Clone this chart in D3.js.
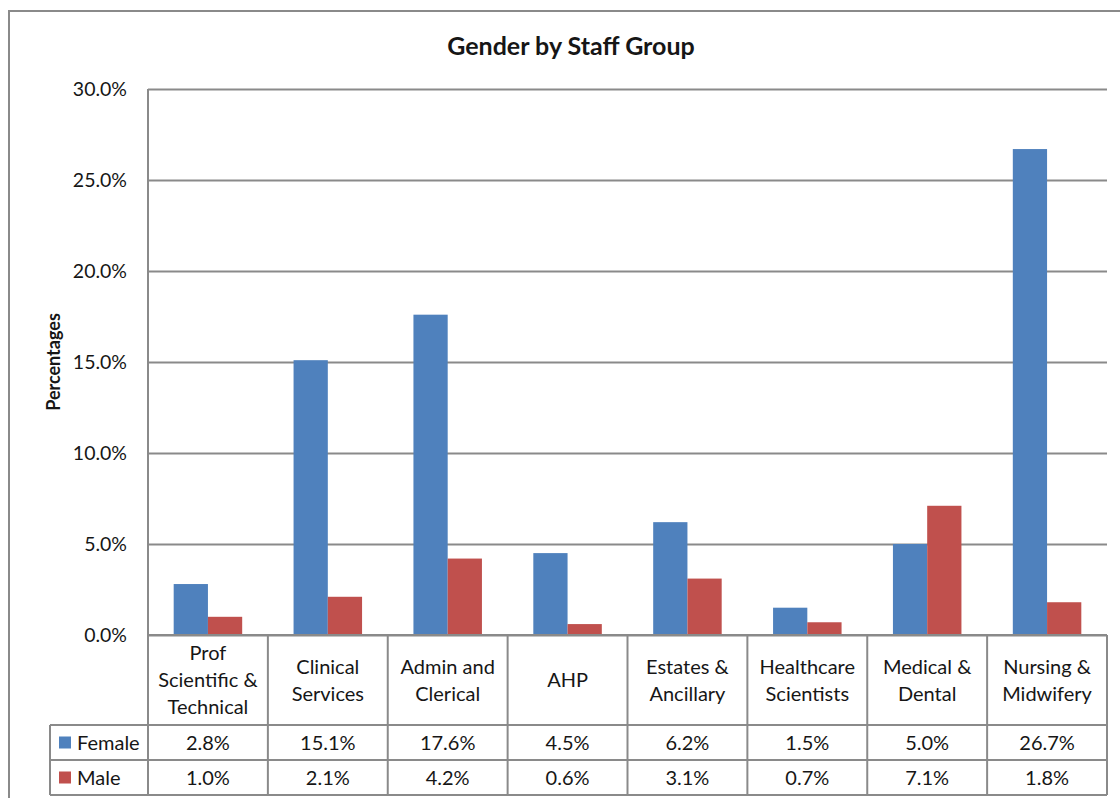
<!DOCTYPE html>
<html>
<head>
<meta charset="utf-8">
<script src="https://cdn.jsdelivr.net/npm/d3@7"></script>
<style>
  body { margin: 0; background: #fff; }
  svg { display: block; }
  text { font-family: Lato, "Open Sans", sans-serif; fill: #161616; }
</style>
</head>
<body>
<script>
// chart data
var categories = ["Prof Scientific & Technical", "Clinical Services", "Admin and Clerical", "AHP",
                  "Estates & Ancillary", "Healthcare Scientists", "Medical & Dental", "Nursing & Midwifery"];
// how each category label wraps in the table header
var categoryLines = [["Prof", "Scientific &", "Technical"], ["Clinical", "Services"], ["Admin and", "Clerical"], ["AHP"],
                     ["Estates &", "Ancillary"], ["Healthcare", "Scientists"], ["Medical &", "Dental"], ["Nursing &", "Midwifery"]];
var seriesNames = ["Female", "Male"];
var female = [2.8, 15.1, 17.6, 4.5, 6.2, 1.5, 5.0, 26.7];
var male = [1.0, 2.1, 4.2, 0.6, 3.1, 0.7, 7.1, 1.8];
var yTicks = [0, 5, 10, 15, 20, 25, 30];

var W = 1120, H = 798;
var plot = {left: 148, right: 1107, top: 89, bottom: 635};
var rowH = [90, 35, 35];   // category row, female row, male row
var legendLeft = 50;
var colors = ["#4f81bd", "#c0504d"];
var lineColor = "#8a8a8a";

var series = [female, male];

var svg = d3.select("body").append("svg")
    .attr("width", W)
    .attr("height", H);

// outer chart frame (runs past the picture on the right and bottom)
svg.append("rect")
    .attr("x", 9).attr("y", 11)
    .attr("width", W + 20).attr("height", H + 20)
    .attr("fill", "none")
    .attr("stroke", lineColor)
    .attr("stroke-width", 2);

var x = d3.scaleBand()
    .domain(categories)
    .range([plot.left, plot.right]);

// gap width 150% -> each side gets 0.75 of a bar width
var gap = x.bandwidth() * 0.75 / 3.5;
var xInner = d3.scaleBand()
    .domain(seriesNames)
    .range([gap, x.bandwidth() - gap]);

var y = d3.scaleLinear()
    .domain([0, 30])
    .range([plot.bottom, plot.top]);

// gridlines + tick labels
var yAxis = d3.axisLeft(y)
    .tickValues(yTicks)
    .tickSize(-(plot.right - plot.left))
    .tickPadding(21)
    .tickFormat(function(d) { return d3.format(".1f")(d) + "%"; });

var yAxisGroup = svg.append("g")
    .attr("transform", "translate(" + plot.left + ",0)")
    .call(yAxis);
yAxisGroup.select(".domain").remove();
yAxisGroup.selectAll(".tick line")
    .attr("stroke", lineColor)
    .attr("stroke-width", 2);
yAxisGroup.selectAll(".tick text")
    .attr("fill", "#161616")
    .style("font-family", "Lato, sans-serif")
    .style("font-size", "19.5px");

// bars
var groups = svg.append("g").selectAll("g")
    .data(categories)
    .enter()
    .append("g")
    .attr("transform", function(d) { return "translate(" + x(d) + ",0)"; });

groups.selectAll("rect")
    .data(function(d, i) {
        return seriesNames.map(function(s, j) { return {name: s, value: series[j][i], k: j}; });
    })
    .enter()
    .append("rect")
    .attr("x", function(d) { return xInner(d.name); })
    .attr("y", function(d) { return y(d.value); })
    .attr("width", xInner.bandwidth())
    .attr("height", function(d) { return y(0) - y(d.value); })
    .attr("fill", function(d) { return colors[d.k]; });

// vertical axis line
svg.append("line")
    .attr("x1", plot.left).attr("x2", plot.left)
    .attr("y1", plot.top).attr("y2", plot.bottom)
    .attr("stroke", lineColor)
    .attr("stroke-width", 2);

// data table
var rowTop = [plot.bottom, plot.bottom + rowH[0], plot.bottom + rowH[0] + rowH[1]];
var tableBottom = rowTop[2] + rowH[2];
var table = svg.append("g");

// horizontal lines
table.append("line")
    .attr("x1", plot.left).attr("x2", plot.right)
    .attr("y1", rowTop[0]).attr("y2", rowTop[0]);
[rowTop[1], rowTop[2], tableBottom].forEach(function(yy) {
    table.append("line")
        .attr("x1", legendLeft).attr("x2", plot.right)
        .attr("y1", yy).attr("y2", yy);
});
// vertical lines
categories.forEach(function(c) {
    table.append("line")
        .attr("x1", x(c)).attr("x2", x(c))
        .attr("y1", rowTop[0]).attr("y2", tableBottom);
});
table.append("line")
    .attr("x1", plot.right).attr("x2", plot.right)
    .attr("y1", rowTop[0]).attr("y2", tableBottom);
table.append("line")
    .attr("x1", legendLeft).attr("x2", legendLeft)
    .attr("y1", rowTop[1]).attr("y2", tableBottom);
table.selectAll("line")
    .attr("stroke", lineColor)
    .attr("stroke-width", 2);

// category labels
var lineH = 27;
categories.forEach(function(c, i) {
    var lines = categoryLines[i];
    var cy = rowTop[0] + rowH[0] / 2 - (lines.length - 1) * lineH / 2;
    var t = table.append("text")
        .attr("text-anchor", "middle")
        .style("font-size", "20px");
    lines.forEach(function(l, k) {
        t.append("tspan")
            .attr("x", x(c) + x.bandwidth() / 2)
            .attr("y", cy + k * lineH)
            .attr("dy", "0.35em")
            .text(l);
    });
});

// value rows and legend keys
seriesNames.forEach(function(s, j) {
    var cy = rowTop[j + 1] + rowH[j + 1] / 2;
    table.append("rect")
        .attr("x", 59).attr("y", cy - 6)
        .attr("width", 12).attr("height", 12)
        .attr("fill", colors[j]);
    table.append("text")
        .attr("x", 77).attr("y", cy)
        .attr("dy", "0.35em")
        .style("font-size", "20px")
        .text(s);
    categories.forEach(function(c, i) {
        table.append("text")
            .attr("x", x(c) + x.bandwidth() / 2)
            .attr("y", cy)
            .attr("dy", "0.35em")
            .attr("text-anchor", "middle")
            .style("font-size", "20px")
            .text(series[j][i].toFixed(1) + "%");
    });
});

// title
svg.append("text")
    .attr("x", 571).attr("y", 46)
    .attr("dy", "0.35em")
    .attr("text-anchor", "middle")
    .style("font-size", "25px")
    .style("font-weight", "bold")
    .text("Gender by Staff Group");

// y axis title
svg.append("text")
    .attr("transform", "translate(54," + ((plot.top + plot.bottom) / 2) + ") rotate(-90)")
    .attr("dy", "0.35em")
    .attr("text-anchor", "middle")
    .style("font-size", "18px")
    .style("font-weight", "bold")
    .text("Percentages");
</script>
</body>
</html>
